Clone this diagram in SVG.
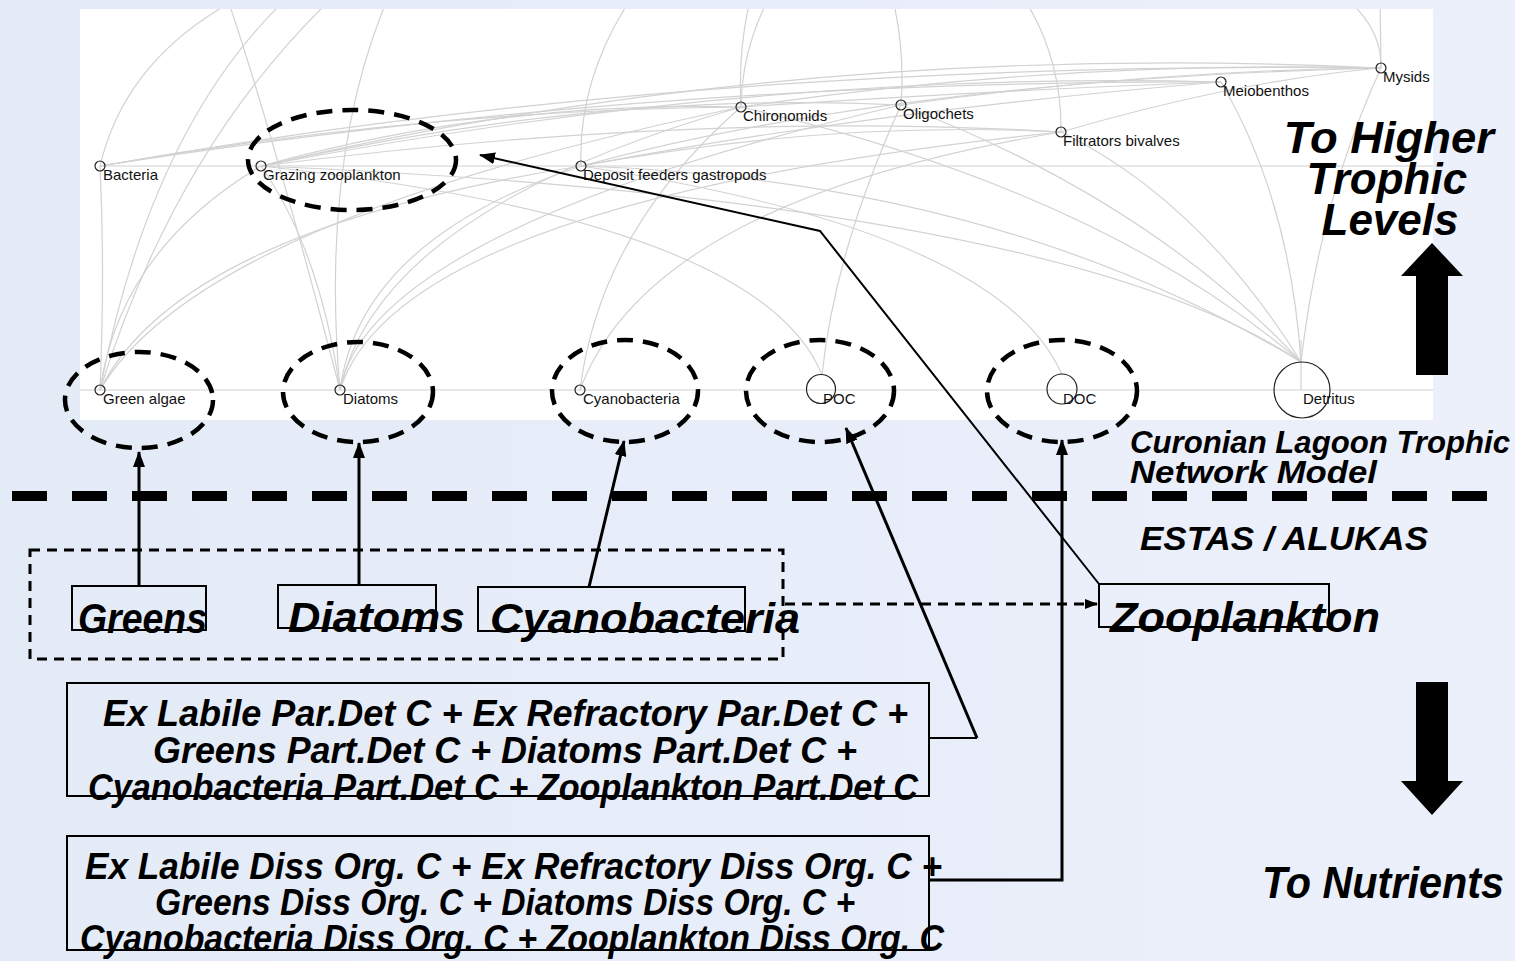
<svg xmlns="http://www.w3.org/2000/svg" width="1515" height="961" viewBox="0 0 1515 961">
  <defs>
    <linearGradient id="bg" x1="0" y1="0" x2="1" y2="0">
      <stop offset="0" stop-color="#e3ebf7"/>
      <stop offset="1" stop-color="#ecf0fb"/>
    </linearGradient>
    <clipPath id="panelClip">
      <rect x="80" y="9" width="1353" height="411"/>
    </clipPath>
    <marker id="head" markerUnits="userSpaceOnUse" markerWidth="16" markerHeight="12" refX="15" refY="6" orient="auto">
      <path d="M0,0 L16,6 L0,12 z" fill="#000"/>
    </marker>
    <marker id="headSmall" markerUnits="userSpaceOnUse" markerWidth="13" markerHeight="10" refX="12" refY="5" orient="auto">
      <path d="M0,0 L13,5 L0,10 z" fill="#000"/>
    </marker>
    <style>
      .big { font-family: "Liberation Sans", Arial, sans-serif; font-weight: bold; font-style: italic; fill: #000; }
      .lbl { font-family: "Liberation Sans", Arial, sans-serif; font-size: 15px; fill: #111; }
      .arc { fill: none; stroke: #d2d2d2; stroke-width: 1.2; }
      .node { fill: none; stroke: #222; stroke-width: 1.2; }
      .ring { fill: none; stroke: #000; stroke-width: 4.5; stroke-dasharray: 16 10; }
      .box { fill: none; stroke: #000; stroke-width: 2; }
      .link { fill: none; stroke: #000; stroke-width: 3; }
      .thin { fill: none; stroke: #000; stroke-width: 2; }
      .block { fill: #000; }
    </style>
  </defs>

  <!-- slide background -->
  <rect x="0" y="0" width="1515" height="961" fill="url(#bg)"/>

  <!-- food web panel -->
  <g id="web-panel">
    <rect x="80" y="9" width="1353" height="411" fill="#fff"/>
    <g clip-path="url(#panelClip)">
      <g class="arc">
        <!-- flows entering from above -->
        <path d="M235,0 Q125,60 100,166"/>
        <path d="M228,0 Q275,140 340,390"/>
        <path d="M387,0 Q320,160 340,390"/>
        <path d="M285,0 Q150,130 100,390"/>
        <path d="M330,0 Q175,150 100,390"/>
        <path d="M630,0 Q578,80 581,166"/>
        <path d="M750,0 Q738,50 741,107"/>
        <path d="M768,0 Q742,50 741,107"/>
        <path d="M893,0 Q905,50 901,105"/>
        <path d="M1025,0 Q1062,60 1061,132"/>
        <path d="M1348,0 Q1382,30 1381,68"/>
        <path d="M1380,0 L1381,68"/>
        <!-- long flows between upper compartments -->
        <path d="M100,166 Q700,60 1381,68"/>
        <path d="M100,166 Q650,80 1221,82"/>
        <path d="M100,166 Q420,110 741,107"/>
        <path d="M261,166 Q800,40 1381,68"/>
        <path d="M261,166 Q760,70 1221,82"/>
        <path d="M261,166 Q600,90 901,105"/>
        <path d="M261,166 Q500,100 741,107"/>
        <path d="M261,166 Q700,110 1061,132"/>
        <path d="M581,166 Q900,80 1381,68"/>
        <path d="M581,166 Q880,110 1221,82"/>
        <path d="M581,166 Q830,120 1061,132"/>
        <path d="M741,107 Q1060,60 1381,68"/>
        <path d="M741,107 Q1000,90 1221,82"/>
        <path d="M901,105 Q1150,70 1381,68"/>
        <path d="M1061,132 Q1240,80 1381,68"/>
        <path d="M100,166 L1433,166"/>
        <!-- flows from the producers and the carbon pools -->
        <path d="M100,390 Q105,270 100,166"/>
        <path d="M100,390 Q120,250 261,166"/>
        <path d="M100,390 Q180,230 581,166"/>
        <path d="M100,390 Q200,220 741,107"/>
        <path d="M340,390 Q320,250 261,166"/>
        <path d="M340,390 Q360,240 581,166"/>
        <path d="M340,390 Q380,210 741,107"/>
        <path d="M340,390 Q370,230 901,105"/>
        <path d="M340,390 Q400,200 1061,132"/>
        <path d="M580,390 Q600,230 741,107"/>
        <path d="M580,390 Q650,200 1061,132"/>
        <path d="M822,375 Q835,250 901,105"/>
        <path d="M261,166 Q760,220 822,375"/>
        <path d="M581,166 Q1000,230 1062,375"/>
        <path d="M1301,362 Q1290,200 1221,82"/>
        <path d="M1301,362 Q1320,200 1381,68"/>
        <path d="M1301,362 Q1200,200 1061,132"/>
        <path d="M1301,362 Q1150,200 901,105"/>
        <path d="M1301,362 Q1100,190 741,107"/>
        <path d="M1301,362 Q1000,180 581,166"/>
        <path d="M1301,362 Q1060,200 261,166"/>
        <path d="M1301,390 L1301,340"/>
        <path d="M80,390 L1433,390"/>
      </g>
    </g>
  </g>

  <!-- compartments of the food web -->
  <g id="node-bacteria">
    <circle class="node" cx="100" cy="166" r="5"/>
    <text class="lbl" x="103" y="180">Bacteria</text>
  </g>
  <g id="node-grazing-zooplankton">
    <circle class="node" cx="261" cy="166" r="5"/>
    <text class="lbl" x="263" y="180">Grazing zooplankton</text>
    <ellipse class="ring" cx="352" cy="160" rx="104" ry="50"/>
  </g>
  <g id="node-deposit-feeders">
    <circle class="node" cx="581" cy="166" r="5"/>
    <text class="lbl" x="583" y="180">Deposit feeders gastropods</text>
  </g>
  <g id="node-chironomids">
    <circle class="node" cx="741" cy="107" r="5"/>
    <text class="lbl" x="743" y="121">Chironomids</text>
  </g>
  <g id="node-oligochets">
    <circle class="node" cx="901" cy="105" r="5"/>
    <text class="lbl" x="903" y="119">Oligochets</text>
  </g>
  <g id="node-filtrators">
    <circle class="node" cx="1061" cy="132" r="5"/>
    <text class="lbl" x="1063" y="146">Filtrators bivalves</text>
  </g>
  <g id="node-meiobenthos">
    <circle class="node" cx="1221" cy="82" r="5"/>
    <text class="lbl" x="1223" y="96">Meiobenthos</text>
  </g>
  <g id="node-mysids">
    <circle class="node" cx="1381" cy="68" r="5"/>
    <text class="lbl" x="1383" y="82">Mysids</text>
  </g>
  <g id="node-green-algae">
    <circle class="node" cx="100" cy="390" r="5"/>
    <text class="lbl" x="103" y="404">Green algae</text>
    <ellipse class="ring" cx="139" cy="400" rx="74" ry="48"/>
  </g>
  <g id="node-diatoms">
    <circle class="node" cx="340" cy="390" r="5"/>
    <text class="lbl" x="343" y="404">Diatoms</text>
    <ellipse class="ring" cx="358" cy="392" rx="75" ry="50"/>
  </g>
  <g id="node-cyanobacteria">
    <circle class="node" cx="580" cy="390" r="5"/>
    <text class="lbl" x="583" y="404">Cyanobacteria</text>
    <ellipse class="ring" cx="625" cy="391" rx="73" ry="51"/>
  </g>
  <g id="node-poc">
    <circle class="node" cx="821" cy="389" r="14.5"/>
    <text class="lbl" x="823" y="404">POC</text>
    <ellipse class="ring" cx="820" cy="391" rx="74" ry="51"/>
  </g>
  <g id="node-doc">
    <circle class="node" cx="1062" cy="389" r="15"/>
    <text class="lbl" x="1063" y="404">DOC</text>
    <ellipse class="ring" cx="1062" cy="391" rx="75" ry="51"/>
  </g>
  <g id="node-detritus">
    <circle class="node" cx="1302" cy="390" r="28"/>
    <text class="lbl" x="1303" y="404">Detritus</text>
  </g>

  <!-- model titles and direction arrows -->
  <g id="label-higher">
    <text class="big" font-size="44" text-anchor="middle">
      <tspan x="1395" y="153" textLength="210" lengthAdjust="spacingAndGlyphs">To Higher</tspan>
      <tspan x="1393" y="194">Trophic</tspan>
      <tspan x="1390" y="235">Levels</tspan>
    </text>
    <path class="block" d="M1432,243 L1463,276 L1448,276 L1448,375 L1416,375 L1416,276 L1401,276 z"/>
  </g>
  <g id="label-curonian">
    <text class="big" font-size="31" x="1130" y="453" textLength="380" lengthAdjust="spacingAndGlyphs">Curonian Lagoon Trophic</text>
    <text class="big" font-size="31" x="1130" y="483" textLength="247" lengthAdjust="spacingAndGlyphs">Network Model</text>
  </g>
  <g id="divider">
    <line x1="12" y1="496" x2="1495" y2="496" stroke="#000" stroke-width="10" stroke-dasharray="35 25"/>
  </g>
  <g id="label-estas">
    <text class="big" font-size="33" x="1140" y="550" textLength="288" lengthAdjust="spacingAndGlyphs">ESTAS / ALUKAS</text>
  </g>
  <g id="label-nutrients">
    <path class="block" d="M1416,682 L1448,682 L1448,781 L1463,781 L1432,815 L1401,781 L1416,781 z"/>
    <text class="big" font-size="45" x="1262" y="898" textLength="242" lengthAdjust="spacingAndGlyphs">To Nutrients</text>
  </g>

  <!-- phytoplankton state variables -->
  <g id="phyto-group">
    <rect x="30" y="550" width="753" height="109" fill="none" stroke="#000" stroke-width="3" stroke-dasharray="10 7"/>
  </g>
  <g id="box-greens">
    <rect class="box" x="72" y="586" width="134" height="44"/>
    <text class="big" font-size="42" x="78" y="633" textLength="129" lengthAdjust="spacingAndGlyphs">Greens</text>
  </g>
  <g id="box-diatoms">
    <rect class="box" x="278" y="585" width="158" height="43"/>
    <text class="big" font-size="42" x="288" y="632" textLength="177" lengthAdjust="spacingAndGlyphs">Diatoms</text>
  </g>
  <g id="box-cyanobacteria">
    <rect class="box" x="478" y="587" width="267" height="44"/>
    <text class="big" font-size="42" x="490" y="633" textLength="310" lengthAdjust="spacingAndGlyphs">Cyanobacteria</text>
  </g>
  <g id="box-zooplankton">
    <rect class="box" x="1099" y="584" width="230" height="43"/>
    <text class="big" font-size="43" x="1110" y="632" textLength="270" lengthAdjust="spacingAndGlyphs">Zooplankton</text>
  </g>
  <g id="box-particulate">
    <rect class="box" x="67" y="683" width="862" height="113"/>
    <text class="big" font-size="37">
      <tspan x="103" y="726" textLength="805" lengthAdjust="spacingAndGlyphs">Ex Labile Par.Det C + Ex Refractory Par.Det C +</tspan>
      <tspan x="153" y="763" textLength="704" lengthAdjust="spacingAndGlyphs">Greens Part.Det C + Diatoms Part.Det C +</tspan>
      <tspan x="88" y="800" textLength="830" lengthAdjust="spacingAndGlyphs">Cyanobacteria Part.Det C + Zooplankton Part.Det C</tspan>
    </text>
  </g>
  <g id="box-dissolved">
    <rect class="box" x="67" y="836" width="862" height="114"/>
    <text class="big" font-size="37">
      <tspan x="85" y="879" textLength="857" lengthAdjust="spacingAndGlyphs">Ex Labile Diss Org. C + Ex Refractory Diss Org. C +</tspan>
      <tspan x="155" y="915" textLength="700" lengthAdjust="spacingAndGlyphs">Greens Diss Org. C + Diatoms Diss Org. C +</tspan>
      <tspan x="80" y="951" textLength="864" lengthAdjust="spacingAndGlyphs">Cyanobacteria Diss Org. C + Zooplankton Diss Org. C</tspan>
    </text>
  </g>

  <!-- connectors between the two models -->
  <g id="connectors">
    <line class="link" x1="139" y1="586" x2="139" y2="452" marker-end="url(#head)"/>
    <line class="link" x1="359" y1="585" x2="359" y2="443" marker-end="url(#head)"/>
    <line class="link" x1="589" y1="587" x2="624" y2="441" marker-end="url(#head)"/>
    <polyline class="thin" points="929,738 977,738"/>
    <line class="link" x1="977" y1="738" x2="846" y2="428" marker-end="url(#head)"/>
    <polyline class="link" points="929,880 1062,880 1062,440" marker-end="url(#head)"/>
    <polyline class="thin" points="1099,584 820,231 480,155" marker-end="url(#head)"/>
    <line x1="785" y1="604" x2="1097" y2="604" stroke="#000" stroke-width="3" stroke-dasharray="10 7" marker-end="url(#headSmall)"/>
  </g>
</svg>
